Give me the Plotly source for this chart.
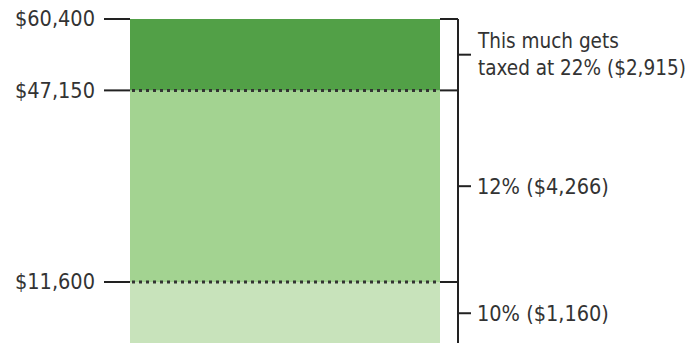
import plotly.graph_objects as go

# Data
boundaries = [0, 11600, 47150, 60400]
boundary_labels = ["$11,600", "$47,150", "$60,400"]
bracket_labels = ["10% ($1,160)", "12% ($4,266)", "This much gets<br>taxed at 22% ($2,915)"]
colors = ["#c8e3bb", "#a3d391", "#52a047"]

FONT = "DejaVu Sans Condensed, Liberation Sans Narrow, sans-serif"
INK = "#222222"
TEXT = "#333333"

fig = go.Figure()
for i in range(3):
    fig.add_trace(go.Bar(
        x=[0], y=[boundaries[i + 1] - boundaries[i]], base=[boundaries[i]],
        width=[1], marker=dict(color=colors[i], line=dict(width=0)),
        hoverinfo="skip", showlegend=False,
    ))

# paper positions (fractions of width)
W = 693
bar_l, bar_r = 130 / W, 440 / W
tick_l = 104 / W
br_x = 458 / W
br_tick = 471 / W

shapes = []
for j, v in enumerate(boundaries[1:]):
    shapes.append(dict(type="line", xref="paper", yref="y", x0=tick_l, x1=bar_l, y0=v, y1=v,
                       line=dict(color=INK, width=2)))
    shapes.append(dict(type="line", xref="paper", yref="y", x0=bar_r, x1=br_x, y0=v, y1=v,
                       line=dict(color=INK, width=2)))
    fig.add_annotation(xref="paper", yref="y", x=97 / W, y=v, text=boundary_labels[j],
                       showarrow=False, xanchor="right", yanchor="middle",
                       font=dict(family=FONT, size=21.5, color=TEXT))
for v in boundaries[1:3]:
    shapes.append(dict(type="line", xref="paper", yref="y", x0=bar_l + 2 / W, x1=bar_r, y0=v, y1=v,
                       line=dict(color="#333333", width=3, dash="3px,4px")))
shapes.append(dict(type="line", xref="paper", yref="y", x0=br_x, x1=br_x, y0=boundaries[-1], y1=boundaries[0],
                   line=dict(color=INK, width=2)))
sizes = [21.5, 21.5, 20.5]
for i in range(3):
    mid = (boundaries[i] + boundaries[i + 1]) / 2
    shapes.append(dict(type="line", xref="paper", yref="y", x0=br_x, x1=br_tick, y0=mid, y1=mid,
                       line=dict(color=INK, width=2)))
    fig.add_annotation(xref="paper", yref="y", x=475 / W, y=mid, text=bracket_labels[i],
                       showarrow=False, xanchor="left", yanchor="middle", align="left",
                       font=dict(family=FONT, size=sizes[i], color=TEXT))

fig.update_layout(
    width=693, height=343,
    margin=dict(l=0, r=0, t=0, b=0),
    paper_bgcolor="white", plot_bgcolor="white",
    barmode="overlay",
    shapes=shapes,
    xaxis=dict(range=[-285 / 310, (693 - 285) / 310], visible=False, fixedrange=True),
    yaxis=dict(range=[278, 63923], visible=False, fixedrange=True),
)

fig.write_html("out.html")
